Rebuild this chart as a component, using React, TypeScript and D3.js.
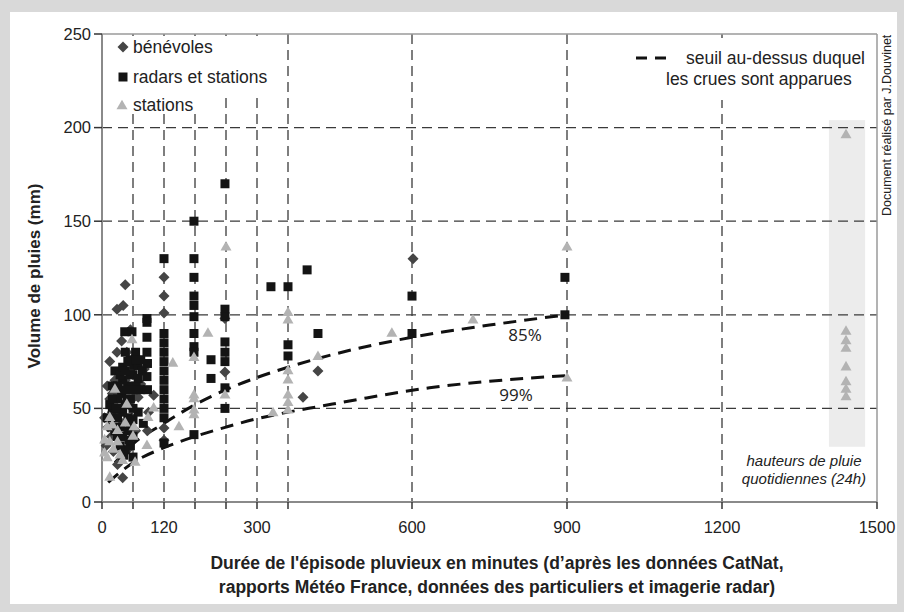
import React from 'react';
import * as d3 from 'd3';

const xTicks = [0, 60, 120, 180, 240, 300, 360, 600, 900, 1200, 1500];
const xLabels = [0, 120, 300, 600, 900, 1200, 1500];
const xGrid = [60, 120, 180, 240, 300, 360, 600, 900, 1200];
const yTicks = [0, 50, 100, 150, 200, 250];
const yGrid = [50, 100, 150, 200];

// bénévoles (diamonds): [minutes, mm]
const benevoles = [
  [45, 116], [29, 103], [41, 105], [120, 120], [120, 110], [120, 101], [238, 98], [602, 130],
  [418, 70], [389, 56], [238, 69.5], [120, 39.5], [120, 33], [40, 13],
  [29, 80], [48, 80], [48, 70], [10, 62], [15, 55], [20, 48], [25, 65], [35, 58], [12, 40],
  [18, 35], [5, 45], [52, 52], [58, 45], [62, 56], [70, 56], [75, 63], [82, 71], [90, 48],
  [100, 57], [30, 50], [8, 30], [22, 27], [40, 42], [65, 38], [30, 20], [50, 28], [88, 38],
  [15, 75], [38, 86], [55, 92], [20, 58], [45, 65], [60, 72],
];

// radars et stations (squares)
const radars = [
  [238, 170], [178, 150], [120, 130], [178, 130], [178, 120], [178, 110], [178, 105], [178, 99],
  [87, 98], [87, 96], [238, 103], [238, 99], [327, 115], [360, 115], [397, 124], [418, 90],
  [600, 110], [600, 90], [360, 84], [360, 78], [896, 120], [896, 100],
  [44, 91], [58, 91], [87, 88], [120, 90], [120, 85], [120, 80], [120, 75], [120, 70], [120, 65],
  [120, 60], [120, 55], [120, 50], [120, 45], [120, 31.5], [178, 90], [178, 83], [178, 80],
  [211, 76], [211, 66], [238, 85.5], [238, 80], [238, 75], [238, 61], [238, 50], [178, 36], [60, 24],
  [55, 76], [62, 73], [70, 73], [78, 70], [60, 68], [66, 62], [75, 60], [55, 55], [45, 52], [38, 58],
  [30, 55], [20, 50], [25, 45], [35, 40], [50, 38], [60, 35], [55, 30], [45, 28], [87, 80], [87, 67],
  [18, 40], [10, 45], [15, 52], [88, 74], [88, 60], [50, 62], [30, 35], [70, 48], [80, 42], [40, 65],
  [20, 62], [25, 70], [30, 62], [35, 68], [40, 72], [45, 80], [50, 75], [55, 68], [65, 80], [70, 66],
  [45, 60], [50, 45], [40, 48], [35, 50], [25, 38], [40, 35], [60, 50], [55, 42], [60, 44], [48, 55],
  [35, 30], [30, 45], [60, 60], [45, 70], [65, 76], [75, 76], [20, 55], [28, 50], [52, 33], [42, 25],
];

// stations (triangles)
const stations = [
  [240, 136], [360, 101], [360, 97], [561, 90], [718, 97], [900, 136], [900, 66], [418, 77.5],
  [360, 70], [360, 65], [360, 57], [360, 53], [331, 47.5], [360, 49], [58, 86.5], [205, 90],
  [178, 77], [137, 74], [178, 55], [178, 49], [178, 46.5], [149, 40], [48, 52], [15, 45], [20, 41],
  [30, 38], [15, 32], [30, 32], [10, 23.5], [15, 13], [40, 22], [64, 21], [87, 30], [89, 45],
  [60, 35], [35, 25], [100, 50], [238, 57], [178, 57], [25, 60], [45, 42], [5, 26],
  [5, 33], [10, 40], [22, 28], [62, 40],
];

// daily (24h) rainfall heights at 1440 min
const dailyMinutes = 1440;
const dailyValues = [196, 91, 86, 82, 72, 64, 60, 56];
const dailyBand = { t0: 1407, t1: 1477, v0: 29.5, v1: 204 };

// threshold curves
const seuil85 = [
  [25, 21], [35, 24], [60, 31], [120, 42], [180, 52], [240, 60], [300, 66.5], [360, 72],
  [450, 79], [600, 88], [750, 94.5], [900, 100],
];
const seuil99 = [
  [12, 10.5], [60, 21], [120, 29], [180, 35], [240, 40], [300, 44.5], [360, 48], [420, 51],
  [500, 55], [634, 61], [750, 64.5], [900, 67.5],
];

const FONT = '"Liberation Sans", Arial, sans-serif';

function diamondPath(cx: number, cy: number, r: number) {
  return `M${cx},${cy - r}L${cx + r},${cy}L${cx},${cy + r}L${cx - r},${cy}Z`;
}
function squarePath(cx: number, cy: number, s: number) {
  const h = s / 2;
  return `M${cx - h},${cy - h}h${s}v${s}h${-s}Z`;
}
function trianglePath(cx: number, cy: number, s: number) {
  const h = (s * Math.sqrt(3)) / 2;
  return `M${cx},${cy - (2 * h) / 3}L${cx + s / 2},${cy + h / 3}L${cx - s / 2},${cy + h / 3}Z`;
}

export default function App() {
  const x = d3.scaleLinear().domain([0, 1500]).range([102, 877]);
  const y = d3.scaleLinear().domain([0, 250]).range([502, 34]);
  const line = d3
    .line<number[]>()
    .x((d) => x(d[0]))
    .y((d) => y(d[1]))
    .curve(d3.curveMonotoneX);

  const gridColor = '#3a3a3a';
  const dColor = '#454545';
  const sColor = '#141414';
  const tColor = '#b3b3b3';

  return (
    <svg
      width={904}
      height={612}
      style={{ position: 'absolute', left: 0, top: 0 }}
      fontFamily={FONT}
    >
      <rect x={0} y={0} width={904} height={612} fill="#d9d9d9" />
      <rect x={10} y={12} width={887} height={592} fill="#ffffff" />

      {/* daily band */}
      <rect
        x={x(dailyBand.t0)}
        y={y(dailyBand.v1)}
        width={x(dailyBand.t1) - x(dailyBand.t0)}
        height={y(dailyBand.v0) - y(dailyBand.v1)}
        fill="#ececec"
      />

      {/* grid */}
      {yGrid.map((v) => (
        <line key={'hy' + v} x1={x(0)} x2={x(1500)} y1={y(v)} y2={y(v)} stroke={gridColor}
          strokeWidth={1.3} strokeDasharray="10,6" />
      ))}
      {xGrid.map((t) => (
        <line key={'vx' + t} x1={x(t)} x2={x(t)} y1={y(250)} y2={y(0)} stroke={gridColor}
          strokeWidth={1.3} strokeDasharray="10,6" />
      ))}

      {/* frame */}
      <line x1={x(0)} x2={x(1500)} y1={y(250)} y2={y(250)} stroke="#9a9a9a" strokeWidth={1.5} />
      <line x1={x(1500)} x2={x(1500)} y1={y(250)} y2={y(0)} stroke="#9a9a9a" strokeWidth={1.5} />
      <line x1={x(0)} x2={x(0)} y1={y(250)} y2={y(0)} stroke="#8a8a8a" strokeWidth={2} />
      <line x1={x(0)} x2={x(1500)} y1={y(0)} y2={y(0)} stroke="#8a8a8a" strokeWidth={2} />

      {/* y ticks */}
      {yTicks.map((v) => (
        <g key={'yt' + v}>
          <line x1={x(0) - 8} x2={x(0)} y1={y(v)} y2={y(v)} stroke="#333" strokeWidth={1.5} />
          <text x={x(0) - 11} y={y(v)} dy="0.35em" textAnchor="end" fontSize={16.5} fill="#222">
            {v}
          </text>
        </g>
      ))}
      {/* x ticks */}
      {xTicks.map((t) => (
        <line key={'xt' + t} x1={x(t)} x2={x(t)} y1={y(0)} y2={y(0) + 7} stroke="#333" strokeWidth={1.5} />
      ))}
      {xLabels.map((t) => (
        <text key={'xl' + t} x={x(t)} y={y(0) + 25} dy="0.35em" textAnchor="middle" fontSize={16.5} fill="#222">
          {t}
        </text>
      ))}

      {/* legend backgrounds */}
      <rect x={104} y={36} width={180} height={56} fill="#fff" />
      <rect x={104} y={92} width={94} height={22} fill="#fff" />
      <rect x={630} y={38} width={246} height={62} fill="#fff" />

      {/* threshold curves */}
      <path d={line(seuil85) || ''} fill="none" stroke="#111" strokeWidth={3} strokeDasharray="13,8" />
      <path d={line(seuil99) || ''} fill="none" stroke="#111" strokeWidth={3} strokeDasharray="13,8" />

      {/* points */}
      {benevoles.map((d, i) => (
        <path key={'b' + i} d={diamondPath(x(d[0]), y(d[1]), 5.5)} fill={dColor} />
      ))}
      {radars.map((d, i) => (
        <path key={'r' + i} d={squarePath(x(d[0]), y(d[1]), 9)} fill={sColor} />
      ))}
      {stations.map((d, i) => (
        <path key={'s' + i} d={trianglePath(x(d[0]), y(d[1]), 11)} fill={tColor} />
      ))}
      {dailyValues.map((v, i) => (
        <path key={'dv' + i} d={trianglePath(x(dailyMinutes), y(v), 11)} fill={tColor} />
      ))}

      {/* curve labels */}
      <text x={525} y={335} dy="0.35em" textAnchor="middle" fontSize={17} fill="#222"
        fontFamily='"Open Sans", sans-serif'>85%</text>
      <text x={516} y={395} dy="0.35em" textAnchor="middle" fontSize={17} fill="#222"
        fontFamily='"Open Sans", sans-serif'>99%</text>

      {/* legend left */}
      <path d={diamondPath(123, 47, 5.5)} fill={dColor} />
      <text x={133} y={47} dy="0.35em" fontSize={17.5} fill="#222">bénévoles</text>
      <path d={squarePath(123, 77, 9)} fill={sColor} />
      <text x={133} y={77} dy="0.35em" fontSize={17.5} fill="#222">radars et stations</text>
      <path d={trianglePath(122, 106, 11)} fill={tColor} />
      <text x={133} y={105} dy="0.35em" fontSize={17.5} fill="#222">stations</text>

      {/* legend right */}
      <line x1={636} x2={667} y1={58} y2={58} stroke="#111" strokeWidth={3} strokeDasharray="11,8" />
      <text x={686} y={58} dy="0.35em" fontSize={17.5} fill="#222">seuil au-dessus duquel</text>
      <text x={666} y={79} dy="0.35em" fontSize={17.5} fill="#222">les crues sont apparues</text>

      {/* daily label */}
      <text x={804} y={461} dy="0.35em" textAnchor="middle" fontSize={15} fontStyle="italic" fill="#222">
        hauteurs de pluie
      </text>
      <text x={804} y={479} dy="0.35em" textAnchor="middle" fontSize={15} fontStyle="italic" fill="#222">
        quotidiennes (24h)
      </text>

      {/* axis titles */}
      <text transform="translate(34,276) rotate(-90)" textAnchor="middle" dy="0.35em" fontSize={17}
        fontWeight="bold" fill="#222">
        Volume de pluies (mm)
      </text>
      <text x={497} y={563} dy="0.35em" textAnchor="middle" fontSize={17.5} fontWeight="bold" fill="#222">
        Durée de l'épisode pluvieux en minutes (d’après les données CatNat,
      </text>
      <text x={497} y={587} dy="0.35em" textAnchor="middle" fontSize={17.5} fontWeight="bold" fill="#222">
        rapports Météo France, données des particuliers et imagerie radar)
      </text>

      {/* credit */}
      <text transform="translate(891,216) rotate(-90)" fontSize={12.5} fill="#222">
        Document réalisé par J.Douvinet
      </text>
    </svg>
  );
}
